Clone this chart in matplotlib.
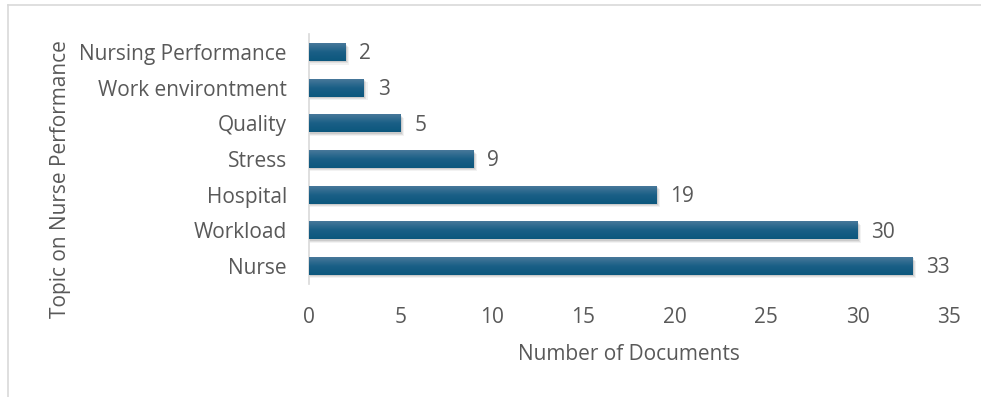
import numpy as np
import matplotlib
matplotlib.use("Agg")
import matplotlib.pyplot as plt
from matplotlib.lines import Line2D

# data (bottom to top)
topics = ["Nurse", "Workload", "Hospital", "Stress", "Quality",
          "Work environtment", "Nursing Performance"]
docs = [33, 30, 19, 9, 5, 3, 2]
xticks = [0, 5, 10, 15, 20, 25, 30, 35]

txt = "#595959"
fs = 15
plt.rcParams['font.family'] = ['Open Sans', 'DejaVu Sans']

fig = plt.figure(figsize=(9.81, 3.97), dpi=100)
ax = fig.add_axes([309/981, 1-283.8/397, 640/981, (283.8-34.2)/397])

# light frame around the chart area
fig.add_artist(Line2D([8/981, 8/981], [0, 1-5/397], transform=fig.transFigure,
                      color="#d9d9d9", lw=1.2))
fig.add_artist(Line2D([8/981, 1], [1-5/397, 1-5/397], transform=fig.transFigure,
                      color="#d9d9d9", lw=1.2))

ypos = np.arange(len(topics))
h = 0.5

# soft shadow under bars
for dx, dy, a in [(0.2, -0.10, 0.05), (0.12, -0.07, 0.07), (0.06, -0.04, 0.09)]:
    ax.barh(ypos + dy, np.array(docs) + dx, height=h, color="black", alpha=a,
            lw=0, zorder=1)

bars = ax.barh(ypos, docs, height=h, color="#1c6088", lw=0, zorder=2)

# vertical gradient on each bar
grad = np.linspace(0, 1, 64).reshape(-1, 1)
cmap = matplotlib.colors.LinearSegmentedColormap.from_list(
    "g", ["#0c577d", "#1a5f86", "#47789a"])
for b in bars:
    x0, y0 = b.get_x(), b.get_y()
    w, hh = b.get_width(), b.get_height()
    im = ax.imshow(grad, cmap=cmap, aspect="auto", origin="lower",
                   extent=[x0, x0 + w, y0, y0 + hh], zorder=3)
    im.set_clip_path(b)

for y, v in zip(ypos, docs):
    ax.text(v + 0.75, y - 0.05, str(v), va="center", ha="left",
            fontsize=fs, color=txt)

ax.set_xlim(0, 35)
ax.set_ylim(-0.5, len(topics) - 0.5)
ax.set_xticks(xticks)
ax.set_yticks(ypos)
ax.set_yticklabels(topics)
ax.tick_params(axis="both", length=0, labelsize=fs, colors=txt)
ax.tick_params(axis="x", pad=17)
ax.tick_params(axis="y", pad=16)

for s in ["top", "right", "bottom"]:
    ax.spines[s].set_visible(False)
ax.spines["left"].set_color("#d9d9d9")
ax.spines["left"].set_linewidth(1.2)

ax.set_xlabel("Number of Documents", fontsize=fs, color=txt, labelpad=11)
ax.set_ylabel("Topic on Nurse Performance", fontsize=fs, color=txt)
ax.yaxis.set_label_coords(-238/640, 0.42)

fig.savefig("out.png", dpi=100)
